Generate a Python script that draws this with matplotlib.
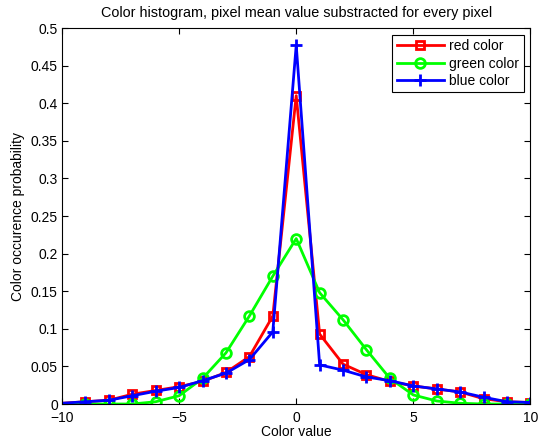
import numpy as np
import matplotlib
matplotlib.use('Agg')
import matplotlib.pyplot as plt

plt.rcParams['font.family'] = ['Liberation Sans', 'DejaVu Sans']

# color value bins
values = np.arange(-10, 11)

red = [0.001, 0.003, 0.005, 0.013, 0.018, 0.023, 0.030, 0.042, 0.063, 0.117, 0.410,
       0.093, 0.053, 0.039, 0.030, 0.024, 0.020, 0.016, 0.007, 0.003, 0.002]
green = [0.0, 0.0, 0.0, 0.0, 0.003, 0.011, 0.034, 0.068, 0.117, 0.170, 0.220,
         0.148, 0.112, 0.072, 0.034, 0.012, 0.004, 0.001, 0.0, 0.0, 0.0]
blue = [0.001, 0.003, 0.005, 0.011, 0.017, 0.022, 0.031, 0.041, 0.059, 0.096, 0.477,
        0.052, 0.045, 0.036, 0.031, 0.024, 0.020, 0.016, 0.009, 0.003, 0.002]

fig = plt.figure(figsize=(5.38, 4.48), dpi=100)
ax = fig.add_axes([0.1152, 0.0982, 0.8708, 0.8393])

marks = list(range(1, len(values)))
ax.plot(values, red, color='#ff0000', lw=2, marker='s', ms=6, mfc='none', mew=2,
        markevery=marks, label='red color')
ax.plot(values, green, color='#00ff00', lw=2, marker='o', ms=7, mfc='none', mew=2,
        markevery=marks, label='green color')
ax.plot(values, blue, color='#0000ff', lw=2, marker='+', ms=8, mew=2,
        markevery=marks, label='blue color')

ax.set_xlim(-10, 10)
ax.set_ylim(0, 0.5)
ax.set_xticks([-10, -5, 0, 5, 10])
ax.set_yticks(np.arange(0, 0.51, 0.05))
ax.set_yticklabels(['0', '0.05', '0.1', '0.15', '0.2', '0.25', '0.3', '0.35', '0.4', '0.45', '0.5'])
ax.tick_params(direction='in', top=True, right=True, labelsize=10, length=4)
ax.tick_params(axis='y', pad=3)
ax.tick_params(axis='x', pad=5)
for s in ax.spines.values():
    s.set_linewidth(0.8)

ax.set_title('Color histogram, pixel mean value substracted for every pixel', fontsize=10.4, pad=8)
ax.set_xlabel('Color value', fontsize=10, labelpad=0)
ax.set_ylabel('Color occurence probability', fontsize=10, labelpad=4)

leg = ax.legend(loc='upper right', fontsize=10, fancybox=False, framealpha=1,
                edgecolor='black', borderaxespad=0.5, handlelength=3.4,
                labelspacing=0.25, borderpad=0.3, handletextpad=0.4)
leg.get_frame().set_linewidth(0.8)

fig.savefig('out.png', dpi=100)
